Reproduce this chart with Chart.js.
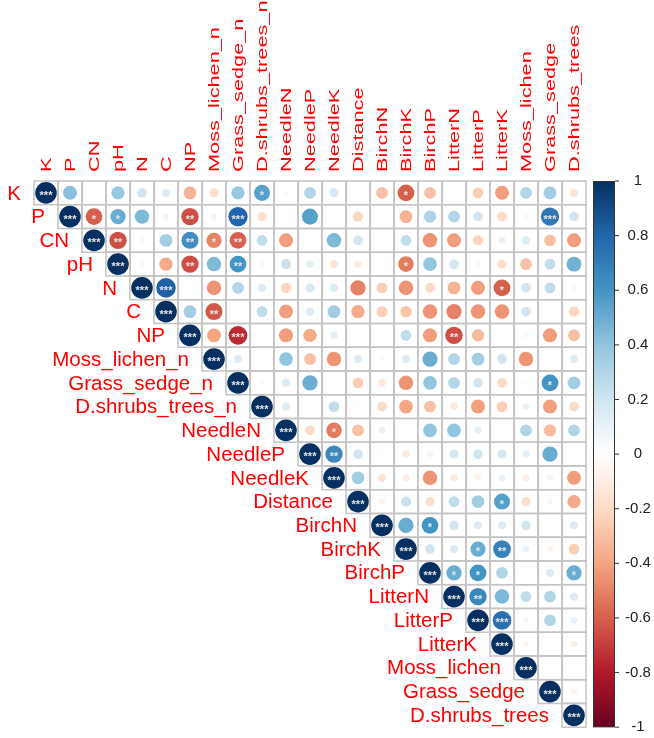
<!DOCTYPE html>
<html>
<head>
<meta charset="utf-8">
<script src="https://cdn.jsdelivr.net/npm/chart.js@4.4.1/dist/chart.umd.min.js"></script>
<style>
  html, body { margin: 0; padding: 0; background: #fff; }
  #wrap { width: 654px; height: 738px; }
</style>
</head>
<body>
<div id="wrap"><canvas id="corrChart" width="654" height="738"></canvas></div>
<script>
// variable names (same order for rows and columns)
const vars = ["K", "P", "CN", "pH", "N", "C", "NP", "Moss_lichen_n", "Grass_sedge_n",
  "D.shrubs_trees_n", "NeedleN", "NeedleP", "NeedleK", "Distance", "BirchN", "BirchK",
  "BirchP", "LitterN", "LitterP", "LitterK", "Moss_lichen", "Grass_sedge", "D.shrubs_trees"];

// upper triangle, each row starts at its diagonal
const rowK = [1, 0.42, 0.02, 0.38, 0.2, 0.15, -0.35, -0.18, 0.38, 0.55, 0.05, 0.3, 0.18, 0.02, -0.3, -0.6, -0.3, 0.02, -0.25, -0.42, 0.3, 0.35, -0.15];
const rowP = [1, -0.6, 0.5, 0.45, 0.08, -0.65, 0.08, 0.8, -0.18, 0.02, 0.55, 0, -0.22, 0, -0.35, 0.32, 0.3, 0.2, -0.2, 0.05, 0.72, 0.2];
const rowCN = [1, -0.65, -0.05, 0.35, 0.62, -0.5, -0.6, 0.25, -0.42, -0.03, 0.45, 0.2, 0.02, 0.25, -0.45, -0.42, -0.22, 0.1, 0.15, -0.3, -0.42];
const rowPH = [1, -0.05, -0.38, -0.65, 0.45, 0.6, 0.05, 0.22, 0.12, -0.15, -0.12, 0, -0.52, 0.4, 0.2, 0.05, -0.18, -0.3, 0.25, 0.48];
const rowN = [1, 0.82, 0.03, -0.45, 0.3, 0.15, -0.22, 0.18, 0.15, -0.5, -0.25, -0.45, -0.2, -0.35, -0.42, -0.6, 0.2, 0.25, -0.05];
const rowC = [1, 0.35, -0.62, -0.03, 0.25, -0.42, 0.15, 0.35, -0.38, -0.25, -0.28, -0.45, -0.5, -0.45, -0.45, 0.2, 0.03, -0.22];
const rowNP = [1, -0.4, -0.75, 0.02, -0.42, -0.38, 0.12, 0.01, 0, 0.25, -0.42, -0.65, -0.32, 0, -0.05, -0.42, -0.3];
const rowMossN = [1, 0.15, -0.03, 0.4, -0.3, -0.45, 0.15, 0.05, 0.15, 0.5, 0.3, 0.35, 0.2, -0.45, 0.02, 0.15];
const rowGrassN = [1, -0.05, 0.15, 0.5, 0, -0.25, -0.12, -0.45, 0.4, 0.3, 0.2, -0.2, 0.03, 0.6, 0.35];
const rowShrubN = [1, 0.15, 0.02, 0.25, -0.03, -0.2, -0.4, -0.3, -0.12, -0.42, -0.25, 0.1, -0.42, -0.2];
const rowNeedleN = [1, -0.2, -0.52, -0.3, 0.1, 0.02, 0.4, 0.4, 0.12, 0.01, 0.3, -0.32, 0.3];
const rowNeedleP = [1, 0.65, 0.2, 0.03, -0.12, 0.08, 0.18, 0.2, 0.18, 0.12, 0.5, 0.02];
const rowNeedleK = [1, 0.35, -0.15, -0.1, -0.45, -0.12, -0.08, 0.1, -0.1, 0.08, -0.42];
const rowDistance = [1, -0.08, 0.22, -0.18, 0.25, 0.35, 0.55, -0.18, 0.06, -0.38];
const rowBirchN = [1, 0.5, 0.6, 0.2, 0.15, 0.15, 0.2, 0.01, 0.15];
const rowBirchK = [1, 0.2, 0.15, 0.5, 0.68, 0.1, -0.08, -0.25];
const rowBirchP = [1, 0.5, 0.6, 0.3, 0.02, 0.15, 0.5];
const rowLitterN = [1, 0.65, 0.45, 0.25, 0.3, 0.15];
const rowLitterP = [1, 0.75, 0.06, 0.3, 0.1];
const rowLitterK = [1, -0.06, 0.01, -0.1];
const rowMoss = [1, 0.01, 0.01];
const rowGrass = [1, -0.08];
const rowShrub = [1];

const corrRows = [rowK, rowP, rowCN, rowPH, rowN, rowC, rowNP, rowMossN, rowGrassN, rowShrubN,
  rowNeedleN, rowNeedleP, rowNeedleK, rowDistance, rowBirchN, rowBirchK, rowBirchP,
  rowLitterN, rowLitterP, rowLitterK, rowMoss, rowGrass, rowShrub];

// significance labels off the diagonal (diagonal is always ***)
const sigLabels = [
  ["K", "D.shrubs_trees_n", "*"], ["K", "BirchK", "*"],
  ["P", "CN", "*"], ["P", "pH", "*"], ["P", "NP", "**"], ["P", "Grass_sedge_n", "***"], ["P", "Grass_sedge", "***"],
  ["CN", "pH", "**"], ["CN", "NP", "**"], ["CN", "Moss_lichen_n", "*"], ["CN", "Grass_sedge_n", "**"],
  ["pH", "NP", "**"], ["pH", "Grass_sedge_n", "**"], ["pH", "BirchK", "*"],
  ["N", "C", "***"], ["N", "LitterK", "*"],
  ["C", "Moss_lichen_n", "**"],
  ["NP", "Grass_sedge_n", "***"], ["NP", "LitterN", "**"],
  ["Grass_sedge_n", "Grass_sedge", "*"],
  ["NeedleN", "NeedleK", "*"], ["NeedleP", "NeedleK", "**"],
  ["Distance", "LitterK", "*"],
  ["BirchN", "BirchP", "*"], ["BirchK", "LitterP", "*"], ["BirchK", "LitterK", "**"],
  ["BirchP", "LitterN", "*"], ["BirchP", "LitterP", "*"], ["BirchP", "D.shrubs_trees", "*"],
  ["LitterN", "LitterP", "**"], ["LitterP", "LitterK", "***"]
];

// colour bar ticks
const barTicks = [1, 0.8, 0.6, 0.4, 0.2, 0, -0.2, -0.4, -0.6, -0.8, -1];

// RdBu palette used by corrplot, from -1 to 1
const palette = ["#67001F", "#B2182B", "#D6604D", "#F4A582", "#FDDBC7", "#FFFFFF",
  "#D1E5F0", "#92C5DE", "#4393C3", "#2166AC", "#053061"];

function hexToRgb(h) {
  return [parseInt(h.slice(1, 3), 16), parseInt(h.slice(3, 5), 16), parseInt(h.slice(5, 7), 16)];
}

function colorFor(v) {
  const t = (Math.max(-1, Math.min(1, v)) + 1) / 2 * (palette.length - 1);
  const i = Math.min(Math.floor(t), palette.length - 2);
  const f = t - i;
  const a = hexToRgb(palette[i]), b = hexToRgb(palette[i + 1]);
  const c = a.map((x, k) => Math.round(x + (b[k] - x) * f));
  return `rgb(${c[0]},${c[1]},${c[2]})`;
}

const points = [];
corrRows.forEach((row, i) => {
  row.forEach((v, k) => points.push({ x: i + k, y: i, v: v }));
});

const sigMap = {};
vars.forEach((_, i) => { sigMap[i + "," + i] = "***"; });
sigLabels.forEach(([r, c, s]) => { sigMap[vars.indexOf(r) + "," + vars.indexOf(c)] = s; });

const FONT = "'Liberation Sans', Arial, sans-serif";

// grey cell borders of the upper triangle
const gridPlugin = {
  id: "cellGrid",
  beforeDatasetsDraw(chart) {
    const { ctx, scales: { x, y } } = chart;
    ctx.save();
    ctx.strokeStyle = "#c4c4c4";
    ctx.lineWidth = 1.5;
    for (let i = 0; i < vars.length; i++) {
      for (let j = i; j < vars.length; j++) {
        const x0 = x.getPixelForValue(j - 0.5), x1 = x.getPixelForValue(j + 0.5);
        const y0 = y.getPixelForValue(i - 0.5), y1 = y.getPixelForValue(i + 0.5);
        ctx.strokeRect(x0, y0, x1 - x0, y1 - y0);
      }
    }
    ctx.restore();
  }
};

// stars, column and row labels, colour bar
const labelPlugin = {
  id: "labels",
  afterDatasetsDraw(chart) {
    const { ctx, scales: { x, y }, chartArea } = chart;
    ctx.save();
    // stars
    ctx.fillStyle = "#e6e6e6";
    ctx.font = "bold 11px " + FONT;
    ctx.textAlign = "center";
    ctx.textBaseline = "middle";
    Object.keys(sigMap).forEach(key => {
      const [i, j] = key.split(",").map(Number);
      ctx.fillText(sigMap[key], x.getPixelForValue(j), y.getPixelForValue(i) + 3);
    });
    // column labels on top, rotated and a bit condensed
    ctx.fillStyle = "#ff0000";
    ctx.font = "20.5px " + FONT;
    ctx.textAlign = "left";
    ctx.textBaseline = "alphabetic";
    vars.forEach((name, j) => {
      ctx.save();
      ctx.translate(x.getPixelForValue(j) + 4.5, chartArea.top - 9);
      ctx.rotate(-Math.PI / 2);
      ctx.scale(1.06, 0.72);
      ctx.fillText(name, 0, 0);
      ctx.restore();
    });
    // row labels next to the diagonal
    ctx.textAlign = "right";
    ctx.textBaseline = "middle";
    vars.forEach((name, i) => {
      ctx.fillText(name, x.getPixelForValue(i - 0.5) - 13, y.getPixelForValue(i) + 1);
    });
    // colour bar
    const bx = 593, bw = 22, by0 = chartArea.top, by1 = chartArea.bottom;
    const g = ctx.createLinearGradient(0, by1, 0, by0);
    palette.forEach((c, k) => g.addColorStop(k / (palette.length - 1), c));
    ctx.fillStyle = g;
    ctx.fillRect(bx, by0, bw, by1 - by0);
    ctx.strokeStyle = "#333";
    ctx.lineWidth = 1;
    ctx.strokeRect(bx + 0.5, by0 + 0.5, bw - 1, by1 - by0 - 1);
    ctx.fillStyle = "#222";
    ctx.font = "15px " + FONT;
    ctx.textAlign = "center";
    barTicks.forEach(t => {
      const ty = by0 + (1 - t) / 2 * (by1 - by0);
      ctx.beginPath();
      ctx.moveTo(bx + bw, ty);
      ctx.lineTo(bx + bw + 4, ty);
      ctx.stroke();
      ctx.fillText(String(t), 638, ty);
    });
    ctx.restore();
  }
};

new Chart(document.getElementById("corrChart"), {
  type: "scatter",
  data: {
    datasets: [{
      data: points,
      pointStyle: "circle",
      pointRadius: c => 10.8 * Math.sqrt(Math.abs(c.raw.v)),
      pointHoverRadius: c => 10.8 * Math.sqrt(Math.abs(c.raw.v)),
      pointBackgroundColor: c => colorFor(c.raw.v),
      pointBorderWidth: 0,
      pointBorderColor: "rgba(0,0,0,0)"
    }]
  },
  options: {
    responsive: false,
    animation: false,
    events: [],
    layout: { padding: { left: 34, right: 68, top: 0, bottom: 8 } },
    plugins: { legend: { display: false }, tooltip: { enabled: false } },
    scales: {
      x: {
        type: "linear",
        position: "top",
        min: -0.5,
        max: 22.5,
        afterFit: s => { s.height = 181; },
        grid: { display: false, drawTicks: false },
        border: { display: false },
        ticks: { display: false }
      },
      y: {
        type: "linear",
        reverse: true,
        min: -0.5,
        max: 22.5,
        display: false
      }
    }
  },
  plugins: [gridPlugin, labelPlugin]
});
</script>
</body>
</html>
